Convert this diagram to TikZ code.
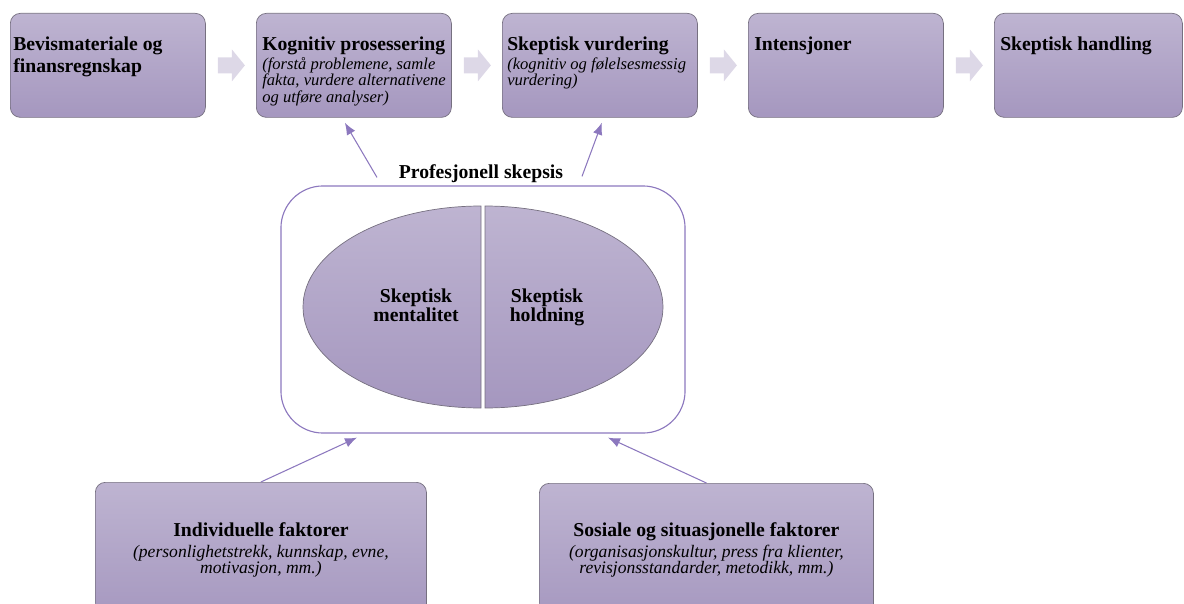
\documentclass[tikz,border=0pt]{standalone}
\usepackage{fontspec}
\setmainfont{Liberation Serif}
\usetikzlibrary{arrows.meta,calc}

\definecolor{boxtop}{RGB}{190,180,209}
\definecolor{boxbot}{RGB}{165,151,191}
\definecolor{boxline}{RGB}{118,112,128}
\definecolor{chevfill}{RGB}{221,216,231}
\definecolor{linepurple}{RGB}{140,120,190}

\newcommand{\boxtitle}[1]{{\fontsize{14}{14}\selectfont\bfseries #1}}
\setlength{\lineskiplimit}{-20pt}

\begin{document}
\begin{tikzpicture}[x=0.025cm, y=-0.025cm,
  stepbox/.style={draw=boxline, line width=0.5pt, rounded corners=2.5mm, top color=boxtop, bottom color=boxbot,
    minimum width=48.75mm, minimum height=26mm, inner sep=0, anchor=north west},
  steptext/.style={anchor=north west, align=left, inner sep=0, font=\fontsize{11.8}{11.7}\selectfont},
  factext/.style={anchor=north, align=center, inner sep=0, font=\fontsize{12.5}{11.7}\selectfont},
  halfell/.style={draw=boxline, line width=0.5pt, top color=boxtop, bottom color=boxbot},
  uparr/.style={draw=linepurple, line width=0.75pt, -{Latex[length=3mm,width=2.4mm]}}]
\useasboundingbox (0,0) rectangle (1184,604);

% top row of steps
\node[stepbox] (b1) at (10,13) {};
\node[stepbox] (b2) at (256,13) {};
\node[stepbox] (b3) at (502,13) {};
\node[stepbox] (b4) at (748,13) {};
\node[stepbox, minimum width=47mm] (b5) at (994,13) {};

\node[steptext] (t1) at ($(b1.north west)+(3,24)$) {\boxtitle{Bevismateriale og}\\[3.9pt]\boxtitle{finansregnskap}};
\node[steptext] (t2) at ($(b2.north west)+(6,24)$) {\boxtitle{Kognitiv prosessering}\\[1.4pt]
  \textit{(forstå problemene, samle}\\\textit{fakta, vurdere alternativene}\\\textit{og utføre analyser)}};
\node[steptext] (t3) at ($(b3.north west)+(5,24)$) {\boxtitle{Skeptisk vurdering}\\[1.4pt]
  \textit{(kognitiv og følelsesmessig}\\\textit{vurdering)}};
\node[steptext] (t4) at ($(b4.north west)+(6,24)$) {\boxtitle{Intensjoner}};
\node[steptext] (t5) at ($(b5.north west)+(6,24)$) {\boxtitle{Skeptisk handling}};

% chevrons between the steps
\foreach \a/\b in {b1/b2,b2/b3,b3/b4,b4/b5}
  \fill[chevfill] ($(\a.east)!0.5!(\b.west)$) ++(-13,-8) -- ++(14,0) -- ++(0,-8) -- ++(13,16)
    -- ++(-13,16) -- ++(0,-8) -- ++(-14,0) -- cycle;

% professional scepticism
\node[draw=linepurple, line width=0.8pt, rounded corners=10.5mm, minimum width=101mm, minimum height=61.75mm, inner sep=0] (prof) at (483,309.5) {};
\node[anchor=base, inner sep=0, font=\fontsize{14}{14}\selectfont\bfseries] (proflbl) at (481,178) {Profesjonell skepsis};

\draw[halfell] (481,206) arc[start angle=270, end angle=90, x radius=178, y radius=101] -- cycle;
\draw[halfell] (485,206) arc[start angle=270, end angle=450, x radius=178, y radius=101] -- cycle;
\node[anchor=north, align=center, inner sep=0, font=\fontsize{14}{13.5}\selectfont\bfseries] (ment) at (416,289) {Skeptisk\\mentalitet};
\node[anchor=north, align=center, inner sep=0, font=\fontsize{14}{13.5}\selectfont\bfseries] (hold) at (547,289) {Skeptisk\\holdning};

\draw[uparr] ($(prof.north)+(-106,-8)$) -- ($(b2.south)+(-9,5)$);
\draw[uparr] ($(prof.north)+(99,-9)$) -- ($(b3.south)+(2,5)$);

% factors
\node[stepbox, minimum width=82.75mm, minimum height=35mm] (ind) at (95,482) {};
\node[stepbox, minimum width=83.5mm, minimum height=35mm] (sos) at (539,483) {};
\node[factext] (indt) at ($(ind.north)+(0,40)$) {\boxtitle{Individuelle faktorer}\\[3.3pt]
  \textit{(personlighetstrekk, kunnskap, evne,}\\\textit{motivasjon, mm.)}};
\node[factext] (sost) at ($(sos.north)+(0,39)$) {\boxtitle{Sosiale og situasjonelle faktorer}\\[3.3pt]
  \textit{(organisasjonskultur, press fra klienter,}\\\textit{revisjonsstandarder, metodikk, mm.)}};

\draw[uparr] (ind.north) -- ($(prof.south)+(-126,4)$);
\draw[uparr] (sos.north) -- ($(prof.south)+(125,4)$);
\end{tikzpicture}
\end{document}
